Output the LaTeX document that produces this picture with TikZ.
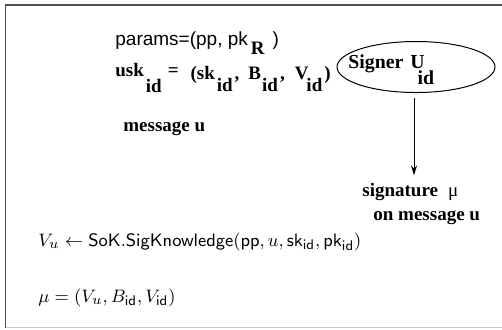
\documentclass[tikz,border=0pt]{standalone}
\usepackage[no-math]{fontspec}
\newfontfamily\helvfont{Liberation Sans}
\newfontfamily\tmsfont{Liberation Serif}
\usepackage{xcolor}
\definecolor{frameGray}{RGB}{80, 80, 80}
\definecolor{frameLight}{RGB}{200, 200, 200}
\usepackage{tikz}
\usetikzlibrary{
    shapes.geometric,
    arrows.meta
}

% subscripts in the figure are set at full size, just dropped below the line
\newcommand{\dropsub}[2][6pt]{\raisebox{-#1}{#2}}

\begin{document}
\begin{tikzpicture}[
    x=0.5pt, y=-0.5pt,
    boldLabel/.style={
        font=\tmsfont\bfseries\fontsize{9.5}{11}\selectfont,
        anchor=base west, inner sep=0pt
    },
    sansLabel/.style={
        font=\helvfont\fontsize{9.5}{11}\selectfont,
        anchor=base west, inner sep=0pt
    },
    mathLabel/.style={
        font=\fontsize{9.4}{11}\selectfont,
        anchor=base west, inner sep=0pt
    },
    signerEllipse/.style={
        ellipse, draw=black, line width=0.5pt,
        minimum width=79pt, minimum height=25.5pt, inner sep=0pt
    },
    flowArrow/.style={
        -{Stealth[length=5pt, width=3pt]}, line width=0.5pt, draw=black
    }
]
    \useasboundingbox (0,0) rectangle (502,329);

    % Outer frame (runs off the right edge)
    \draw[frameGray, line width=0.75pt] (530,5) -- (5.5,5) -- (5.5,327.5);
    \draw[frameLight, line width=0.6pt] (5.5,327.5) -- (530,327.5);

    % Public parameters and user key
    \node[sansLabel] (paramsLine) at (115,45) {%
        params=(pp, pk\hspace{1.5pt}\dropsub[4.5pt]{\tmsfont\bfseries R}\hspace{4pt})};
    \node[boldLabel] (uskLine) at (115,76) {%
        usk\hspace{1pt}\dropsub[8pt]{id}\hspace{3pt}=\hspace{6pt}%
        \raisebox{-1.5pt}{(sk\hspace{1pt}\dropsub{id}\hspace{1pt},\hspace{4.5pt}%
        B\hspace{0.5pt}\dropsub{id}\hspace{1pt},\hspace{5pt}%
        V\hspace{-1pt}\dropsub{id}\hspace{1pt})}};
    \node[boldLabel] (msgLabel) at (123,131) {message u};

    % Signer
    \node[signerEllipse] (signer) at (416,67) {};
    \node[boldLabel, font=\tmsfont\bfseries\fontsize{9.9}{11}\selectfont]
        (signerLabel) at (348,68) {Signer\hspace{3.5pt}U\hspace{-3.5pt}\dropsub[8pt]{id}};

    % Output signature
    \node[boldLabel] (sigLabel) at (362,196) {signature\hspace{5pt}{\mdseries μ}};
    \node[boldLabel] (onMsgLabel) at (373,220) {on message u};

    \draw[flowArrow] ([xshift=-1pt, yshift=-2.5pt]signer.south)
        -- ([xshift=-1pt, yshift=3.5pt]signer.south |- sigLabel.north);

    % Signing steps
    \node[mathLabel] (sokLine) at (38,246) {%
        $V_u \leftarrow \mathsf{SoK.SigKnowledge}(\mathsf{pp}, u, \mathsf{sk}_{\mathsf{id}}, \mathsf{pk}_{\mathsf{id}})$};
    \node[mathLabel] (muLine) at (38,302) {%
        $\mu = (V_u, B_{\mathsf{id}}, V_{\mathsf{id}})$};

\end{tikzpicture}
\end{document}
